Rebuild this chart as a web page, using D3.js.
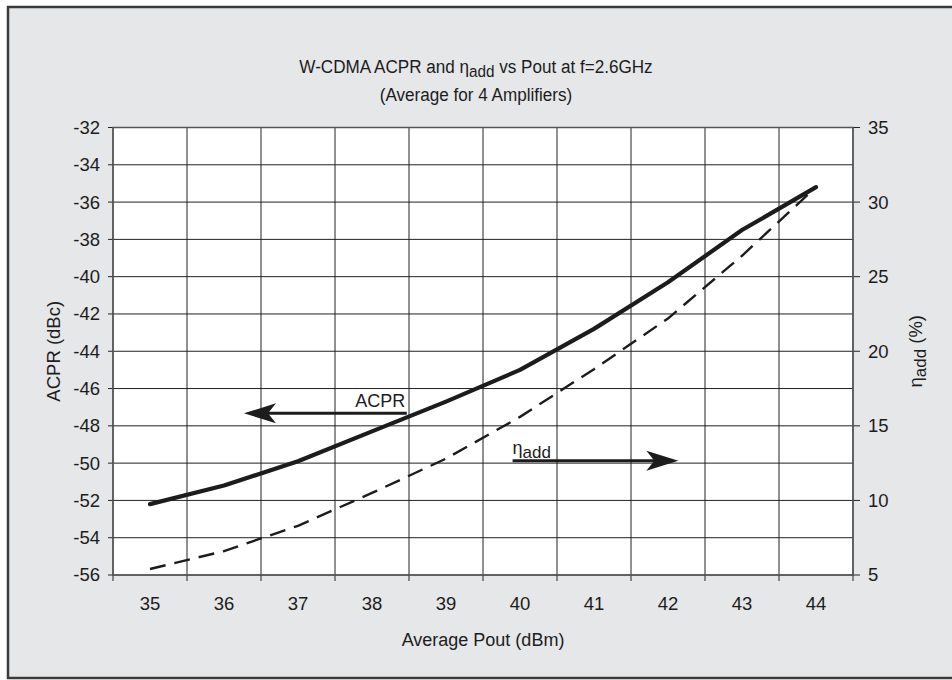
<!DOCTYPE html>
<html>
<head>
<meta charset="utf-8">
<script src="https://cdn.jsdelivr.net/npm/d3@7"></script>
<style>
  html, body { margin: 0; padding: 0; background: #ffffff; }
  svg { display: block; font-family: "Liberation Sans", Arial, Helvetica, sans-serif; }
</style>
</head>
<body>
<svg id="chart" width="952" height="680"></svg>
<script>
// ---- data ----
const categories = [35, 36, 37, 38, 39, 40, 41, 42, 43, 44];           // Average Pout (dBm)
const acpr = [-52.2, -51.2, -49.9, -48.3, -46.7, -45.0, -42.8, -40.3, -37.5, -35.2]; // dBc
const etaAdd = [5.4, 6.6, 8.3, 10.5, 12.8, 15.6, 18.8, 22.2, 26.4, 31.0];            // %
const leftTicks = [-32, -34, -36, -38, -40, -42, -44, -46, -48, -50, -52, -54, -56];
const rightTicks = [35, 30, 25, 20, 15, 10, 5];

const svg = d3.select("#chart");
const plot = { left: 113, right: 853, top: 127.5, bottom: 575 };
const ink = "#1c1c1c";

// frame
svg.append("rect").attr("x", 8).attr("y", 7).attr("width", 960).attr("height", 671)
  .attr("fill", "#e6e7e9").attr("stroke", "#3a3a3a").attr("stroke-width", 2.5);

// scales
const x = d3.scaleBand().domain(categories).range([plot.left, plot.right]).padding(0);
const xc = d => x(d) + x.bandwidth() / 2;
const xl = d3.scaleLinear().domain([34.5, 44.5]).range([plot.left, plot.right]); // continuous helper
const y = d3.scaleLinear().domain([-56, -32]).range([plot.bottom, plot.top]);
const y2 = d3.scaleLinear().domain([5, 35]).range([plot.bottom, plot.top]);

// plot background
svg.append("rect").attr("x", plot.left).attr("y", plot.top)
  .attr("width", plot.right - plot.left).attr("height", plot.bottom - plot.top).attr("fill", "#ffffff");

// grid
const boundaries = categories.map(c => x(c)).concat([x(categories[categories.length - 1]) + x.bandwidth()]);
const g = svg.append("g");
g.selectAll("line.v").data(boundaries).join("line")
  .attr("x1", d => d).attr("x2", d => d).attr("y1", plot.top).attr("y2", plot.bottom + 6)
  .attr("stroke", "#222").attr("stroke-width", 1);
g.selectAll("line.h").data(leftTicks).join("line")
  .attr("x1", plot.left - 5).attr("x2", plot.right).attr("y1", d => y(d)).attr("y2", d => y(d))
  .attr("stroke", "#222").attr("stroke-width", 1);
g.selectAll("line.r").data(rightTicks).join("line")
  .attr("x1", plot.right).attr("x2", plot.right + 7).attr("y1", d => y2(d)).attr("y2", d => y2(d))
  .attr("stroke", "#222").attr("stroke-width", 1);
// plot border
svg.append("rect").attr("x", plot.left).attr("y", plot.top)
  .attr("width", plot.right - plot.left).attr("height", plot.bottom - plot.top)
  .attr("fill", "none").attr("stroke", "#555").attr("stroke-width", 1.5);

// axes labels via d3 axes
const fmt = d => String(d);
const axL = svg.append("g").attr("transform", `translate(${plot.left},0)`)
  .call(d3.axisLeft(y).tickValues(leftTicks).tickSize(0).tickPadding(13).tickFormat(fmt));
const axR = svg.append("g").attr("transform", `translate(${plot.right},0)`)
  .call(d3.axisRight(y2).tickValues(rightTicks).tickSize(0).tickPadding(15).tickFormat(fmt));
const axB = svg.append("g").attr("transform", `translate(0,${plot.bottom})`)
  .call(d3.axisBottom(x).tickSize(0).tickPadding(22).tickFormat(fmt));
[axL, axR, axB].forEach(a => {
  a.select(".domain").remove();
  a.selectAll("text").attr("font-size", 18.5).attr("fill", ink)
    .attr("font-family", '"Liberation Sans", Arial, sans-serif');
});
axB.selectAll("text").attr("dy", "0.71em");

// data lines
const lineL = d3.line().x((d, i) => xc(categories[i])).y(d => y(d));
const lineR = d3.line().x((d, i) => xc(categories[i])).y(d => y2(d));
svg.append("path").datum(etaAdd).attr("d", lineR).attr("fill", "none")
  .attr("stroke", ink).attr("stroke-width", 2.4).attr("stroke-dasharray", "16,9");
svg.append("path").datum(acpr).attr("d", lineL).attr("fill", "none")
  .attr("stroke", ink).attr("stroke-width", 4.2).attr("stroke-linejoin", "round").attr("stroke-linecap", "round");

// annotation arrows
function arrow(x1, x2, yy) {
  const dir = x2 > x1 ? 1 : -1;
  svg.append("line").attr("x1", x1).attr("x2", x2 - dir * 20).attr("y1", yy).attr("y2", yy)
    .attr("stroke", ink).attr("stroke-width", 3);
  const p = d3.path();
  p.moveTo(x2, yy);
  p.lineTo(x2 - dir * 32, yy - 10);
  p.lineTo(x2 - dir * 24, yy);
  p.lineTo(x2 - dir * 32, yy + 10);
  p.closePath();
  svg.append("path").attr("d", p.toString()).attr("fill", ink);
}
arrow(xl(38.47), xl(36.27), y(-47.33));
arrow(xl(39.9), xl(42.14), y2(12.66));

svg.append("text").attr("x", xl(38.45)).attr("y", y(-47.0)).attr("text-anchor", "end")
  .attr("font-size", 18).attr("fill", ink).text("ACPR");
const eta = svg.append("text").attr("x", xl(39.9)).attr("y", y2(13.1))
  .attr("font-size", 18).attr("fill", ink);
eta.append("tspan").text("η");
eta.append("tspan").attr("dy", 4).attr("font-size", 17).text("add");

// titles (slightly condensed like the original)
const t1 = svg.append("text").attr("transform", "translate(476,73) scale(0.9,1)")
  .attr("text-anchor", "middle").attr("font-size", 19).attr("fill", ink);
t1.append("tspan").text("W-CDMA ACPR and η");
t1.append("tspan").attr("dy", 4).attr("font-size", 17).text("add");
t1.append("tspan").attr("dy", -4).text(" vs Pout at f=2.6GHz");
svg.append("text").attr("transform", "translate(476,101) scale(0.9,1)")
  .attr("text-anchor", "middle").attr("font-size", 19).attr("fill", ink).text("(Average for 4 Amplifiers)");

svg.append("text").attr("x", 483).attr("y", 646).attr("text-anchor", "middle")
  .attr("font-size", 18).attr("fill", ink).text("Average Pout (dBm)");

svg.append("text").attr("transform", `translate(60,${(plot.top + plot.bottom) / 2}) rotate(-90)`)
  .attr("text-anchor", "middle").attr("font-size", 18.5).attr("fill", ink).text("ACPR (dBc)");

const rt = svg.append("text").attr("transform", `translate(922,${(plot.top + plot.bottom) / 2}) rotate(-90)`)
  .attr("text-anchor", "middle").attr("font-size", 18.5).attr("fill", ink);
rt.append("tspan").text("η");
rt.append("tspan").attr("dy", 4).attr("font-size", 17).text("add");
rt.append("tspan").attr("dy", -4).text(" (%)");
</script>
</body>
</html>
